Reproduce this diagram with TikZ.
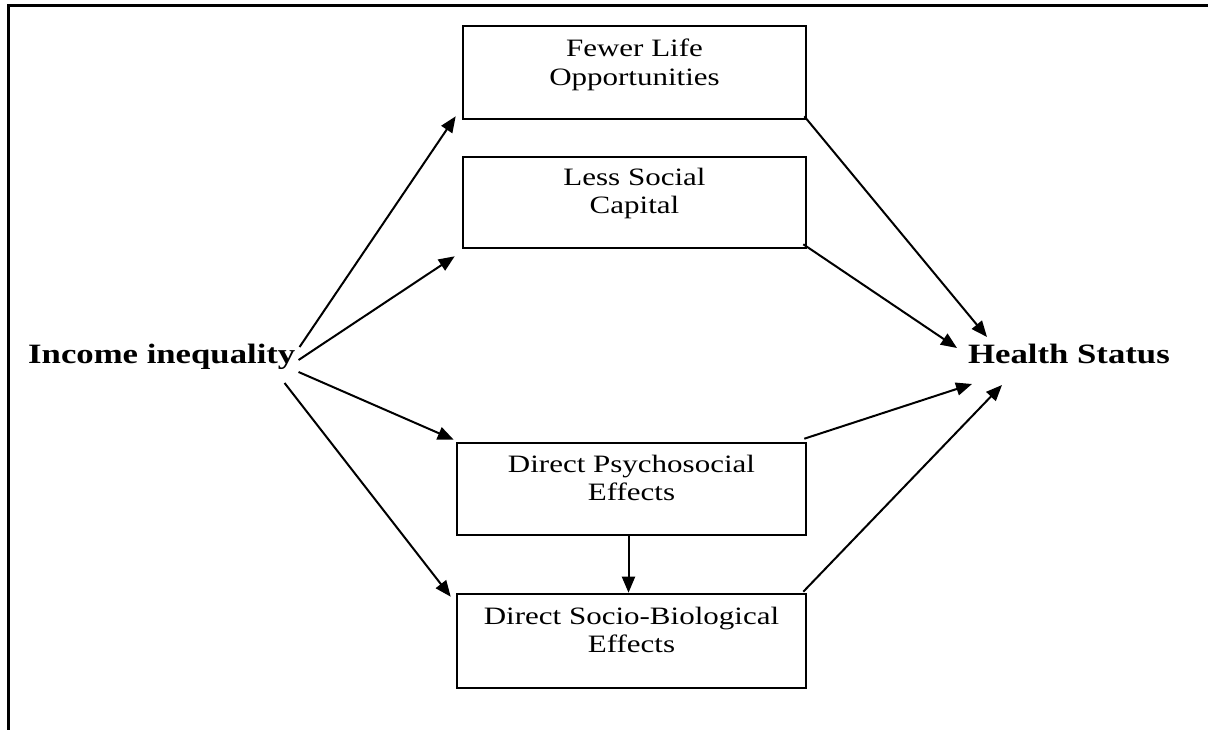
\documentclass[tikz,border=0pt]{standalone}
\usepackage{fontspec}
\setmainfont[FakeStretch=1.24]{Liberation Serif}
\usetikzlibrary{arrows.meta,calc}
\tikzset{
  boxnode/.style={draw, line width=2.6pt, inner sep=0pt},
  boxtext/.style={inner sep=0pt, align=center, anchor=north, font=\fontsize{25}{28.5}\selectfont},
  bigtext/.style={inner sep=0pt, anchor=base west, font=\fontsize{28}{32}\selectfont\bfseries},
  conn/.style={line width=2pt, -{Triangle[length=16pt,width=13pt]}},
  frame/.style={line width=3pt}
}
\begin{document}
\begin{tikzpicture}[x=1pt,y=-1pt]
\useasboundingbox (0,0) rectangle (1208,730);
% outer frame (left and top only)
\draw[frame] (8,731) -- (8,6) -- (1209,6);

% boxes
\node[boxnode, minimum width=343pt, minimum height=93pt] (b1) at (634.5,72.5) {};
\node[boxnode, minimum width=343pt, minimum height=91pt] (b2) at (634.5,202.5) {};
\node[boxnode, minimum width=349pt, minimum height=92pt] (b3) at (631.5,489) {};
\node[boxnode, minimum width=349pt, minimum height=94pt] (b4) at (631.5,641) {};

\node[boxtext] (t1) at ($(b1.north)+(0,14)$) {Fewer Life\\Opportunities};
\node[boxtext] (t2) at ($(b2.north)+(0,12)$) {Less Social\\Capital};
\node[boxtext] (t3) at ($(b3.north)+(0,13)$) {Direct Psychosocial\\Effects};
\node[boxtext] (t4) at ($(b4.north)+(0,14)$) {Direct Socio-Biological\\Effects};

% side labels
\node[bigtext] (inc) at (28,363) {Income inequality};
\node[bigtext] (hs) at (968,363) {Health Status};

% arrows from income inequality
\draw[conn] ($(inc.base east)+(4,-16)$) -- ($(b1.south west)+(-6,-4)$);
\draw[conn] ($(inc.base east)+(3,-3)$) -- ($(b2.south west)+(-7,7)$);
\draw[conn] ($(inc.base east)+(3,9)$) -- ($(b3.north west)+(-2,-2)$);
\draw[conn] ($(inc.base east)+(-11,20)$) -- ($(b4.north west)+(-5,4)$);

% arrows to health status
\draw[conn] ($(b1.south east)+(-3,-4)$) -- ($(hs.base west)+(19,-26)$);
\draw[conn] ($(b2.south east)+(-4,-5)$) -- ($(hs.base west)+(-11,-15)$);
\draw[conn] ($(b3.north east)+(-3,-3)$) -- ($(hs.base west)+(4,21)$);
\draw[conn] ($(b4.north east)+(-4,-1)$) -- ($(hs.base west)+(34,22)$);

% psychosocial -> socio-biological
\draw[conn] ($(b3.south)+(-3,0)$) -- ($(b4.north)+(-3,0)$);
\end{tikzpicture}
\end{document}
